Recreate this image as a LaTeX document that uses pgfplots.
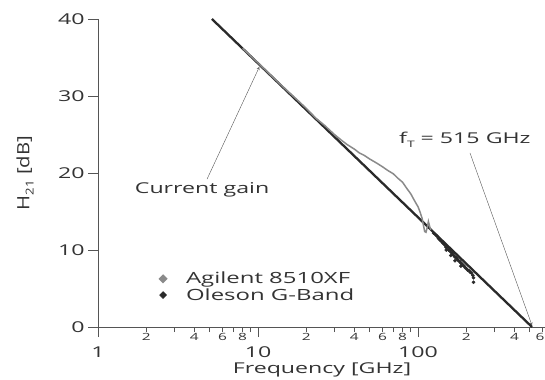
\documentclass[border=0pt]{standalone}
\usepackage{pgfplots}
\pgfplotsset{compat=1.18}
\usepackage{fontspec}
\setmainfont[FakeStretch=1.55]{Open Sans}
\newfontfamily\ylfont[FakeStretch=1.2]{Open Sans}
\definecolor{txt}{HTML}{333333}
\definecolor{ax}{HTML}{555555}
\definecolor{meas}{HTML}{8A8A8A}
\definecolor{fit}{HTML}{2A2A2A}
\newcommand{\fs}[1]{\fontsize{#1}{#1}\selectfont}
\begin{document}
\begin{tikzpicture}[x=1bp,y=1bp]
\useasboundingbox (0,0) rectangle (545,379);
\begin{axis}[
  at={(98bp,52bp)}, anchor=south west, scale only axis,
  width=448bp, height=308bp,
  xmode=log, xmin=1, xmax=630, ymin=0, ymax=40,
  clip=false,
  axis lines=left, axis line style={-, ax, line width=1bp},
  every tick/.style={ax, line width=1bp},
  tick align=outside,
  major tick length=10bp, minor tick length=5bp,
  xtick={1,10,100}, xticklabels={1,10,100},
  minor xtick={3,5,7,9,30,50,70,90,300,500},
  extra x ticks={2,4,6,8,20,40,60,80,200,400,600},
  extra x tick labels={2,4,6,8,2,4,6,8,2,4,\hspace*{-5bp}6},
  extra x tick style={major tick length=5bp, xticklabel shift=-2bp,
     xticklabel style={font=\fs{10}}},
  xticklabel shift=6bp,
  xticklabel style={font=\fs{15}, text=txt},
  ytick={0,10,20,30,40},
  yticklabel style={font=\fs{15}, text=txt},
  /pgf/number format/assume math mode=true,
  xlabel={Frequency [GHz]},
  xlabel style={font=\fs{15}, text=txt, at={(axis description cs:0.5,0)},
     anchor=center, yshift=-43bp},
  ylabel={\ylfont H\raisebox{-0.25em}{\fs{11}21} [dB]},
  ylabel style={font=\fs{17}, text=txt, at={(axis description cs:-0.163,0.5)},
     anchor=center},
  legend style={at={(rel axis cs:0.118,0.185)}, anchor=north west,
     draw=none, fill=none, font=\fs{15.5}, text=txt, inner sep=0pt,
     row sep=-1bp},
  legend cell align=left,
]
% fitted -20 dB/dec line
\addplot[fit, line width=2.3bp, forget plot] coordinates {(5.15,40) (515,0)};
% Agilent 8510XF measured
\addplot[meas, line width=1.5bp,
  legend image code/.code={\path[draw=none] (0,0) -- (33bp,0);
    \fill[meas] (12bp,3.5bp) -- (15.5bp,0) -- (12bp,-3.5bp) -- (8.5bp,0) -- cycle;}]
coordinates {
(8,36.2) (10,34.3) (12,32.7) (15,30.8) (18,29.3) (20,28.4) (23,27.1) (26,26.2)
(30,25.0) (33,24.3) (36,23.7) (40,23.1) (43,22.6) (46,22.3) (50,21.8) (55,21.3)
(60,20.8) (65,20.3) (70,19.9) (75,19.3) (80,18.8) (85,18.0) (90,17.3) (95,16.4)
(100,15.6) (103,14.9) (106,14.1) (108,13.2) (110,12.4) (112,12.3) (114,12.9)
(116,13.7) (118,13.1) (120,12.6)
};
\addlegendentry{Agilent 8510XF}
% Oleson G-Band measured
\addplot[only marks, mark=*, mark size=1.6bp, fit,
  legend image code/.code={\path[draw=none] (0,0) -- (33bp,0);
    \fill[fit] (12bp,3.5bp) -- (15.5bp,0) -- (12bp,-3.5bp) -- (8.5bp,0) -- cycle;}]
coordinates {
(125,12.2) (128,12.0) (131,11.8) (134,11.5) (137,11.3) (140,11.1) (143,10.9)
(146,10.7) (149,10.4) (152,10.3) (155,10.0) (158,9.9) (161,9.7) (164,9.5)
(167,9.3) (170,9.1) (173,9.0) (176,8.8) (179,8.6) (182,8.5) (185,8.3) (188,8.2)
(191,8.0) (194,7.9) (197,7.7) (200,7.6) (204,7.4) (208,7.3) (212,7.1) (216,7.0)
(220,6.7) (222,6.4) (222,5.8) (150,10.0) (160,9.3) (170,8.6) (185,7.9)
};
\addlegendentry{Oleson G-Band}
% annotations
\node[font=\fs{15}, text=txt] at (axis cs:4.47,17.8) {Current gain};
\draw[ax, line width=0.4bp, -stealth] (axis cs:4.8,19.2) -- (axis cs:10.2,33.8);
\node[font=\fs{15}, text=txt] at (axis cs:196,24.3)
  {f\raisebox{-0.25em}{\fs{9}T} = 515 GHz};
\draw[ax, line width=0.4bp, -stealth] (axis cs:211,22.6) -- (axis cs:515,0.2);
\end{axis}
\end{tikzpicture}
\end{document}
